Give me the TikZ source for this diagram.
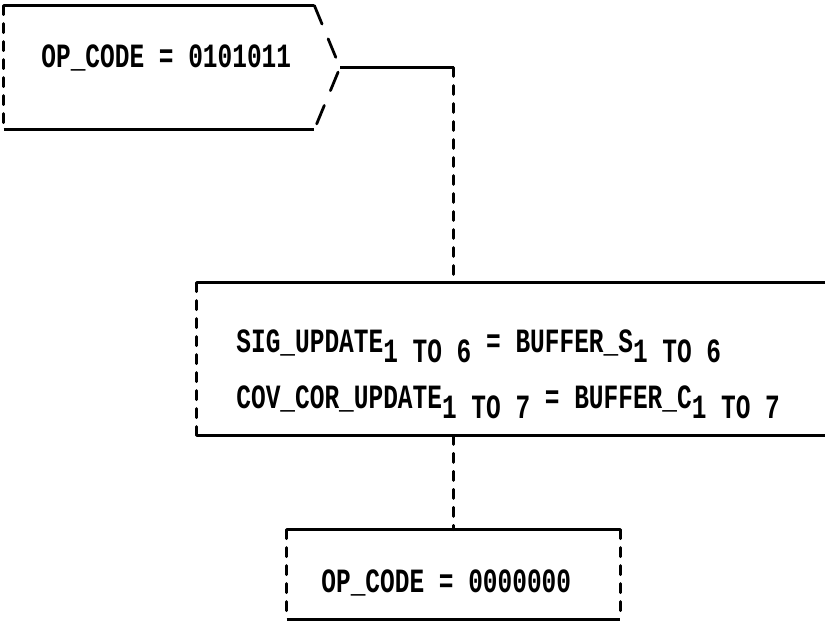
\documentclass[tikz,border=0pt]{standalone}
\usepackage{fontspec}
\usepackage{tikz}
\usetikzlibrary{calc}
\newfontfamily\tyfont{Liberation Mono}[FakeStretch=0.72]
\newcommand{\lowidx}[1]{\raisebox{-10pt}{#1}}

\begin{document}
\begin{tikzpicture}[x=1pt,y=-1pt,line width=2.8pt,
  txt/.style={font=\fontsize{34}{40}\selectfont\tyfont\bfseries,inner sep=0pt,anchor=base west},
  box/.style={inner sep=0pt},
  vl/.style={line cap=round,dash pattern=on 9pt off 9pt},
  sl/.style={line cap=round,dash pattern=on 20pt off 16pt}]
  \useasboundingbox (0,0) rectangle (825,623);
  \node[box,minimum width=308pt,minimum height=121pt] (op1) at (159,67.5) {};
  \node[box,minimum width=627pt,minimum height=150pt] (upd) at (511.5,359) {};
  \node[box,minimum width=331pt,minimum height=87pt] (op0) at (453.5,574.5) {};
  \node[txt] (op1t) at (40,68) {OP\_CODE = 0101011};
  \node[txt] (sig) at (235,352) {SIG\_UPDATE\lowidx{1 TO 6} = BUFFER\_S\lowidx{1 TO 6}};
  \node[txt] (cov) at (235,408) {COV\_COR\_UPDATE\lowidx{1 TO 7} = BUFFER\_C\lowidx{1 TO 7}};
  \node[txt] (op0t) at (320,592) {OP\_CODE = 0000000};
  \coordinate (tip) at (340,67.5);
  \coordinate (j1) at (453.5,67.5);
  \draw (op1.north west) -- (op1.north east);
  \draw (op1.south west) -- (op1.south east);
  \draw[vl] (op1.north west) -- (op1.south west);
  \draw[sl] (op1.north east) -- (tip) -- (op1.south east);
  \draw (upd.north west) -- (upd.north east);
  \draw (upd.south west) -- (upd.south east);
  \draw[vl] (upd.north west) -- (upd.south west);
  \draw (op0.north west) -- (op0.north east);
  \draw (op0.south west) -- (op0.south east);
  \draw[vl] (op0.north west) -- (op0.south west);
  \draw[vl] (op0.north east) -- (op0.south east);
  \draw (tip) -- (j1);
  \draw[vl] (j1) -- (j1 |- upd.north);
  \draw[vl] (upd.south -| op0.north) -- (op0.north);
\end{tikzpicture}
\end{document}
